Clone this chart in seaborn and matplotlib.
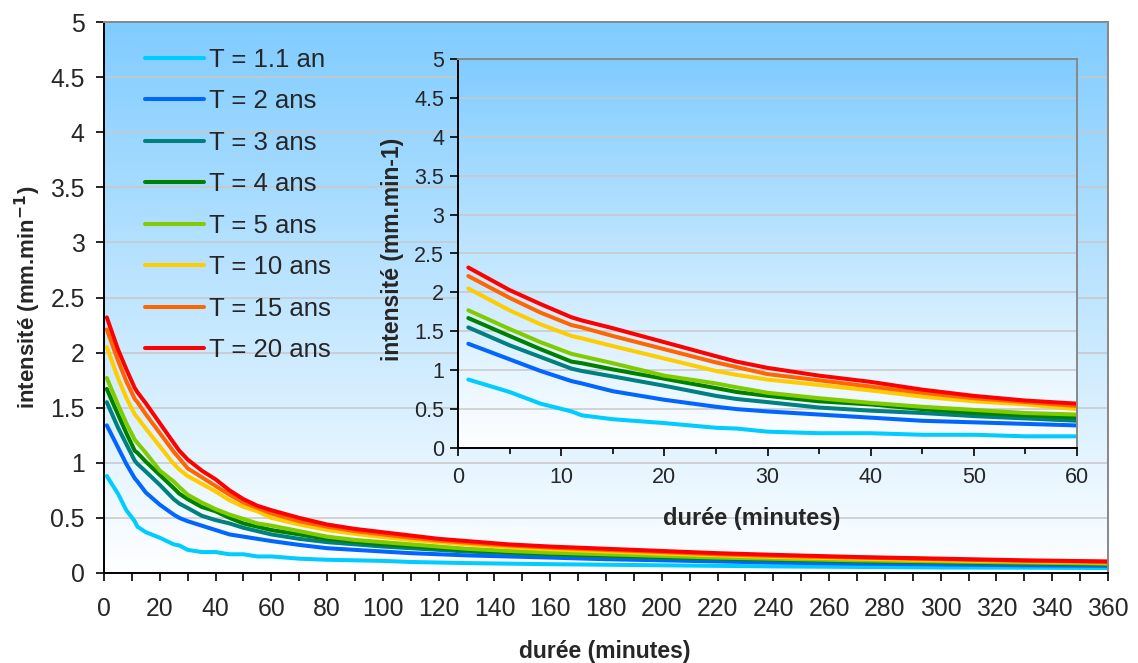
import numpy as np
import pandas as pd
import matplotlib
matplotlib.use("Agg")
import matplotlib.pyplot as plt
import seaborn as sns
from matplotlib.colors import LinearSegmentedColormap
from matplotlib.ticker import FixedLocator, FuncFormatter

# ---------------- data ----------------
durations = [1, 5, 8, 11, 12, 15, 20, 25, 27, 30, 35, 40, 45, 50, 55, 60,
             70, 80, 90, 100, 110, 120, 130, 145, 160, 180, 200, 220, 240, 270, 300, 330, 360]

t_1_1 = [0.88, 0.72, 0.57, 0.47, 0.42, 0.37, 0.32, 0.26, 0.25, 0.21, 0.19, 0.19, 0.17, 0.17, 0.15, 0.15,
         0.13, 0.12, 0.115, 0.11, 0.10, 0.095, 0.09, 0.085, 0.08, 0.075, 0.07, 0.065, 0.06, 0.055, 0.05, 0.048, 0.045]
t_2 = [1.34, 1.14, 0.99, 0.86, 0.83, 0.73, 0.62, 0.53, 0.50, 0.47, 0.43, 0.39, 0.35, 0.33, 0.31, 0.29,
       0.255, 0.225, 0.21, 0.195, 0.18, 0.17, 0.16, 0.15, 0.14, 0.125, 0.115, 0.105, 0.095, 0.085, 0.078, 0.07, 0.065]
t_3 = [1.55, 1.32, 1.17, 1.02, 0.99, 0.92, 0.80, 0.67, 0.63, 0.59, 0.52, 0.48, 0.45, 0.41, 0.38, 0.35,
       0.31, 0.28, 0.26, 0.24, 0.225, 0.21, 0.195, 0.18, 0.165, 0.15, 0.14, 0.13, 0.12, 0.105, 0.095, 0.085, 0.078]
t_4 = [1.67, 1.44, 1.27, 1.11, 1.09, 1.01, 0.89, 0.77, 0.72, 0.67, 0.60, 0.56, 0.50, 0.45, 0.42, 0.39,
       0.35, 0.31, 0.285, 0.26, 0.245, 0.225, 0.21, 0.19, 0.175, 0.16, 0.145, 0.135, 0.125, 0.11, 0.10, 0.09, 0.08]
t_5 = [1.77, 1.53, 1.36, 1.21, 1.18, 1.09, 0.93, 0.83, 0.78, 0.71, 0.64, 0.58, 0.53, 0.49, 0.45, 0.43,
       0.38, 0.33, 0.30, 0.28, 0.26, 0.24, 0.22, 0.20, 0.185, 0.17, 0.155, 0.14, 0.13, 0.115, 0.105, 0.095, 0.085]
t_10 = [2.05, 1.77, 1.59, 1.44, 1.41, 1.31, 1.15, 0.99, 0.94, 0.88, 0.81, 0.74, 0.66, 0.60, 0.56, 0.50,
        0.44, 0.39, 0.355, 0.325, 0.30, 0.28, 0.26, 0.235, 0.215, 0.195, 0.175, 0.16, 0.145, 0.13, 0.115, 0.105, 0.095]
t_15 = [2.21, 1.93, 1.74, 1.58, 1.55, 1.44, 1.27, 1.10, 1.04, 0.95, 0.87, 0.79, 0.71, 0.64, 0.59, 0.54,
        0.47, 0.42, 0.38, 0.35, 0.32, 0.295, 0.275, 0.25, 0.23, 0.21, 0.19, 0.17, 0.155, 0.14, 0.125, 0.11, 0.10]
t_20 = [2.32, 2.03, 1.85, 1.68, 1.64, 1.54, 1.36, 1.18, 1.11, 1.03, 0.93, 0.85, 0.75, 0.67, 0.61, 0.57,
        0.50, 0.44, 0.40, 0.37, 0.34, 0.31, 0.29, 0.26, 0.24, 0.22, 0.20, 0.18, 0.165, 0.145, 0.13, 0.115, 0.105]

series_labels = ["T = 1.1 an", "T = 2 ans", "T = 3 ans", "T = 4 ans",
                 "T = 5 ans", "T = 10 ans", "T = 15 ans", "T = 20 ans"]
series_values = [t_1_1, t_2, t_3, t_4, t_5, t_10, t_15, t_20]
series_colors = ["#00CCFF", "#0066FF", "#008080", "#008000",
                 "#80CC00", "#FFCC00", "#FF6600", "#FF0000"]

y_ticks = [0, 0.5, 1, 1.5, 2, 2.5, 3, 3.5, 4, 4.5, 5]
main_x_labels = list(range(0, 361, 20))
inset_x_labels = list(range(0, 61, 10))

df = pd.DataFrame({
    "duree": np.tile(durations, len(series_labels)),
    "intensite": np.concatenate(series_values),
    "serie": np.repeat(series_labels, len(durations)),
})
palette = dict(zip(series_labels, series_colors))

# ---------------- style ----------------
sns.set_style("white")
plt.rcParams["font.family"] = ["Liberation Sans", "DejaVu Sans"]

W, H = 1138, 663
fig = plt.figure(figsize=(W / 100, H / 100), dpi=100)
ax = fig.add_axes([104 / W, 1 - 573 / H, 1004 / W, 551 / H])
axi = fig.add_axes([458 / W, 1 - 448 / H, 619 / W, 389 / H])

cmap = LinearSegmentedColormap.from_list("bg", ["#FFFFFF", "#80CCFF"])
grad = np.linspace(0, 1, 256).reshape(-1, 1)

fmt = FuncFormatter(lambda v, p: f"{v:g}")

for a in (ax, axi):
    a.imshow(grad, cmap=cmap, origin="lower", extent=[0, 1, 0, 1],
             transform=a.transAxes, aspect="auto", zorder=-10, interpolation="bicubic")
    sns.lineplot(data=df, x="duree", y="intensite", hue="serie", hue_order=series_labels,
                 palette=palette, linewidth=2.9, ax=a, legend=(a is ax), sort=False)
    a.set_ylim(0, 5)
    a.yaxis.set_major_locator(FixedLocator(y_ticks))
    a.yaxis.set_major_formatter(fmt)
    a.grid(axis="y", color="#C8C8C8", linewidth=1.1)
    a.grid(axis="x", visible=False)
    a.set_axisbelow(True)
    for s in ("left", "bottom"):
        a.spines[s].set_color("black")
        a.spines[s].set_linewidth(1.4)
    for s in ("top", "right"):
        a.spines[s].set_color("#888888")
        a.spines[s].set_linewidth(1.4)
    a.tick_params(axis="both", which="both", direction="out", color="black", width=1.2,
                  left=True, bottom=True)

# main axes
ax.set_xlim(0, 360)
ax.xaxis.set_major_locator(FixedLocator(main_x_labels))
ax.xaxis.set_minor_locator(FixedLocator(list(range(10, 361, 20))))
ax.tick_params(axis="both", which="both", length=6, labelsize=17.8)
ax.tick_params(axis="y", pad=8)
ax.tick_params(axis="x", pad=11)
ax.set_xlabel("durée (minutes)", fontsize=16.5, fontweight="bold")
ax.set_ylabel("intensité (mm.min$^{\\mathbf{-1}}$)", fontsize=16, fontweight="bold")
ax.xaxis.set_label_coords(0.499, -0.122)
ax.yaxis.set_label_coords(-0.061, 0.5)

h, l = ax.get_legend_handles_labels()
leg = ax.legend(h, l, loc="upper left", bbox_to_anchor=(145 / W, 1 - 48 / H),
                bbox_transform=fig.transFigure, frameon=False, fontsize=18.5,
                handlelength=2.3, handletextpad=0.2, labelspacing=0.68,
                borderpad=0, borderaxespad=0)
for ln in leg.get_lines():
    ln.set_linewidth(2.9)

# inset axes
axi.set_xlim(0, 60)
axi.xaxis.set_major_locator(FixedLocator(inset_x_labels))
axi.xaxis.set_minor_locator(FixedLocator([5, 15, 25, 35, 45, 55]))
axi.tick_params(axis="both", which="major", length=6, labelsize=15.5)
axi.tick_params(axis="y", pad=4)
axi.tick_params(axis="x", which="minor", length=4)
axi.tick_params(axis="x", which="major", pad=8)
axi.set_xlabel("durée (minutes)", fontsize=17, fontweight="bold")
axi.set_ylabel("intensité (mm.min-1)", fontsize=16.5, fontweight="bold")
axi.xaxis.set_label_coords(0.475, -0.152)
axi.yaxis.set_label_coords(-0.088, 0.51)

fig.savefig("out.png", dpi=100)
